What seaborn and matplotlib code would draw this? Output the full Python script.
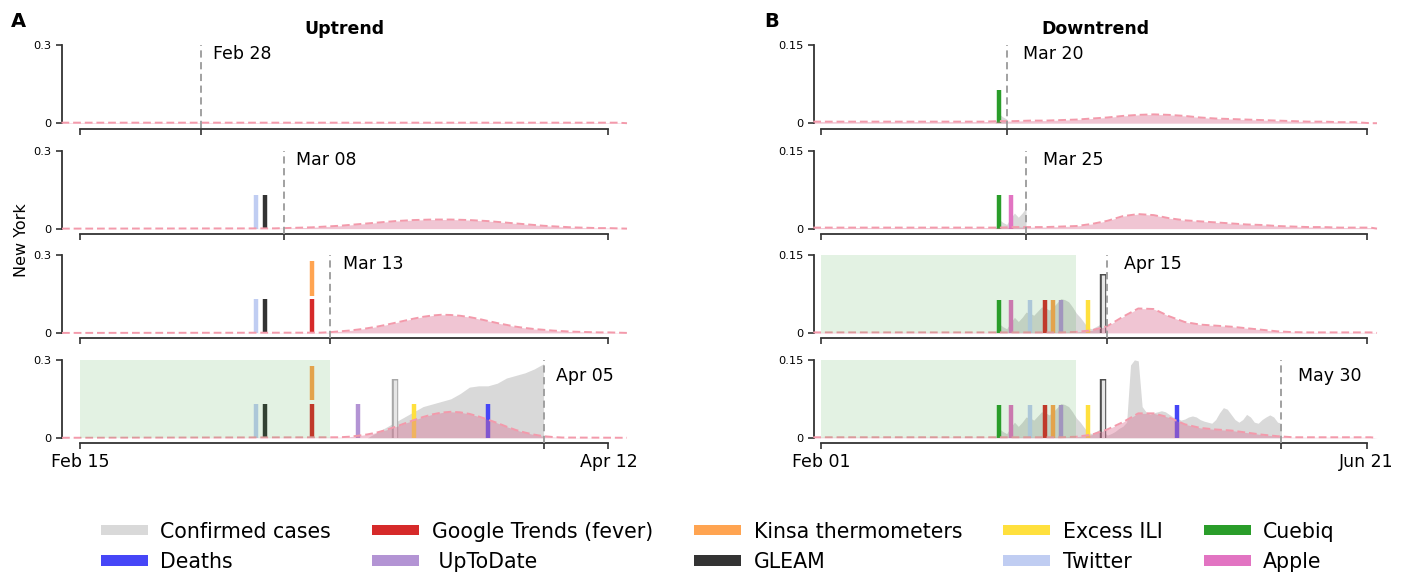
import matplotlib
matplotlib.use("Agg")
import matplotlib.pyplot as plt
import matplotlib.dates as mdates
import matplotlib.patches as mpatches
import numpy as np
import pandas as pd
import seaborn as sns

# ---------------- data ----------------
# forecast dates (one per row) and the span shown on each side
up_forecasts = ["2020-02-28", "2020-03-08", "2020-03-13", "2020-04-05"]
down_forecasts = ["2020-03-20", "2020-03-25", "2020-04-15", "2020-05-30"]
up_span = ["2020-02-15", "2020-04-12"]
down_span = ["2020-02-01", "2020-06-21"]

# detected early-warning signals (date, bar bottom, bar top)
up_sig_names = ["Twitter", "GLEAM", "Google Trends (fever)", "Kinsa thermometers",
                " UpToDate", "Confirmed cases", "Excess ILI", "Deaths"]
up_sig_dates = ["2020-03-05", "2020-03-06", "2020-03-11", "2020-03-11",
                "2020-03-16", "2020-03-20", "2020-03-22", "2020-03-30"]
up_sig_low = [0, 0, 0, 0.144, 0, 0, 0, 0]
up_sig_high = [0.13, 0.13, 0.13, 0.276, 0.13, 0.228, 0.13, 0.13]

down_sig_names = ["Cuebiq", "Apple", "Twitter", "Google Trends (fever)", "Kinsa thermometers",
                  " UpToDate", "Excess ILI", "Confirmed cases", "Deaths"]
down_sig_dates = ["2020-03-18", "2020-03-21", "2020-03-26", "2020-03-30", "2020-04-01",
                  "2020-04-03", "2020-04-10", "2020-04-14", "2020-05-03"]
down_sig_low = [0, 0, 0, 0, 0, 0, 0, 0, 0]
down_sig_high = [0.064, 0.064, 0.064, 0.064, 0.064, 0.064, 0.064, 0.113, 0.064]

# green window (start of span -> end date)
up_shade_end = "2020-03-13"
down_shade_end = "2020-04-07"

# confirmed cases (normalised), daily from start date
up_cases_start = "2020-03-17"
up_cases = [0.0, 0.02, 0.04, 0.06, 0.08, 0.10, 0.12, 0.13, 0.14, 0.15, 0.17, 0.195,
            0.20, 0.20, 0.21, 0.23, 0.24, 0.25, 0.265, 0.285]
down_cases_start = "2020-03-17"
down_cases = [0.0, 0.018, 0.012, 0.008, 0.02, 0.03, 0.022, 0.03, 0.04, 0.038, 0.034,
              0.042, 0.05, 0.048, 0.044, 0.05, 0.058, 0.066, 0.064, 0.06, 0.05, 0.038,
              0.03, 0.02, 0.01, 0.008, 0.012, 0.016, 0.012, 0.005,
              0.008, 0.012, 0.018, 0.022, 0.03, 0.14, 0.15, 0.148, 0.06, 0.05, 0.045,
              0.048, 0.05, 0.052, 0.05, 0.045, 0.04, 0.038, 0.034, 0.036, 0.04, 0.042,
              0.04, 0.035, 0.032, 0.03, 0.028, 0.035, 0.048, 0.058, 0.055, 0.045, 0.035,
              0.03, 0.035, 0.045, 0.04, 0.03, 0.028, 0.035, 0.04, 0.044, 0.04, 0.03, 0.028]

# forecast distributions (pink), start date, step in days, values
up_pink_start = ["2020-02-13", "2020-03-07", "2020-03-12", "2020-03-14"]
up_pink_step = [4, 1, 1, 1]
up_pink = [
    [0.002, 0.002, 0.002, 0.002, 0.002, 0.002, 0.002, 0.002, 0.002, 0.002, 0.002,
     0.002, 0.002, 0.002, 0.002, 0.002],
    [0.001, 0.002, 0.003, 0.004, 0.005, 0.007, 0.009, 0.011, 0.014, 0.017, 0.02, 0.023,
     0.026, 0.029, 0.031, 0.033, 0.034, 0.035, 0.035, 0.035, 0.034, 0.033, 0.031, 0.029,
     0.026, 0.023, 0.02, 0.017, 0.014, 0.011, 0.009, 0.007, 0.005, 0.004, 0.003, 0.002,
     0.002, 0.001],
    [0.001, 0.003, 0.006, 0.009, 0.013, 0.018, 0.024, 0.031, 0.039, 0.047, 0.055, 0.062,
     0.067, 0.07, 0.069, 0.066, 0.061, 0.054, 0.046, 0.038, 0.031, 0.024, 0.019, 0.015,
     0.012, 0.009, 0.007, 0.005, 0.004, 0.003, 0.002, 0.002, 0.001],
    [0.002, 0.004, 0.008, 0.013, 0.02, 0.03, 0.042, 0.055, 0.068, 0.08, 0.09, 0.097,
     0.1, 0.098, 0.092, 0.082, 0.07, 0.057, 0.043, 0.03, 0.02, 0.012, 0.006, 0.003, 0.001],
]
down_pink_start = ["2020-01-30", "2020-01-30", "2020-01-30", "2020-01-30"]
down_pink_step = [4, 4, 4, 4]
down_pink = [
    [0.003, 0.003, 0.003, 0.003, 0.003, 0.003, 0.003, 0.003, 0.003, 0.003, 0.003, 0.003,
     0.004, 0.004, 0.005, 0.005, 0.006, 0.007, 0.009, 0.011, 0.014, 0.016, 0.017, 0.016,
     0.014, 0.011, 0.009, 0.008, 0.007, 0.006, 0.005, 0.004, 0.003, 0.003, 0.002, 0.002, 0.0],
    [0.002, 0.002, 0.002, 0.002, 0.002, 0.002, 0.002, 0.002, 0.002, 0.002, 0.002, 0.002,
     0.002, 0.003, 0.003, 0.003, 0.004, 0.005, 0.009, 0.015, 0.024, 0.028, 0.026, 0.02,
     0.016, 0.014, 0.012, 0.01, 0.008, 0.007, 0.005, 0.004, 0.003, 0.003, 0.002, 0.002, 0.002],
    [0.001, 0.001, 0.001, 0.001, 0.001, 0.001, 0.001, 0.001, 0.001, 0.001, 0.001, 0.001,
     0.001, 0.001, 0.001, 0.001, 0.001, 0.002, 0.005, 0.013, 0.031, 0.047, 0.046, 0.032,
     0.021, 0.016, 0.014, 0.012, 0.009, 0.006, 0.003, 0.0015, 0.001, 0.001, 0.001, 0.001, 0.001],
    [0.001, 0.001, 0.001, 0.001, 0.001, 0.001, 0.001, 0.001, 0.001, 0.001, 0.001, 0.001,
     0.001, 0.001, 0.001, 0.001, 0.001, 0.002, 0.006, 0.016, 0.03, 0.047, 0.047, 0.039,
     0.026, 0.019, 0.016, 0.014, 0.01, 0.006, 0.003, 0.001, 0.001, 0.001, 0.001, 0.001, 0.001],
]

legend_labels = ["Confirmed cases", "Deaths", "Google Trends (fever)", " UpToDate",
                 "Kinsa thermometers", "GLEAM", "Excess ILI", "Twitter", "Cuebiq", "Apple"]
colors = {
    "Confirmed cases": "#d9d9d9", "Deaths": "#4646f7", "Google Trends (fever)": "#d62a2a",
    " UpToDate": "#b394d4", "Kinsa thermometers": "#ffa451", "GLEAM": "#333333",
    "Excess ILI": "#ffe03d", "Twitter": "#c0cdf2", "Cuebiq": "#2a9d2a", "Apple": "#e274c2",
}

# ---------------- plotting ----------------
sns.set_style("ticks")
plt.rcParams["font.family"] = ["DejaVu Sans"]
plt.rcParams["text.color"] = "black"
plt.rcParams["xtick.labelcolor"] = "black"
plt.rcParams["ytick.labelcolor"] = "black"

fig = plt.figure(figsize=(14.1, 5.73), dpi=100)

row_bottoms = [0.785, 0.601, 0.419, 0.236]
row_height = 0.136


def dnum(d):
    return mdates.date2num(pd.Timestamp(d))


def draw_column(x_left, width, pad_l, pad_r, ymax, yticklab, forecasts, span,
                pink_start, pink_step, pink, cases_start, cases,
                sig_names, sig_dates, sig_low, sig_high, shade_end, conf_edge,
                label_dx, title):
    t0, t1 = dnum(span[0]), dnum(span[1])
    xmin, xmax = t0 - pad_l, t1 + pad_r
    axes = []
    for i, fcd in enumerate(forecasts):
        ax = fig.add_axes([x_left, row_bottoms[i], width, row_height])
        axes.append(ax)
        fc = dnum(fcd)
        ax.set_xlim(xmin, xmax)
        ax.set_ylim(0, ymax)

        # confirmed cases up to the forecast date
        cx = dnum(cases_start) + np.arange(len(cases))
        cy = np.array(cases)
        keep = cx <= fc
        if keep.any():
            ax.fill_between(cx[keep], 0, cy[keep], color="#d9d9d9", lw=0, zorder=1)

        # detected signals
        conf_date = None
        for nm, d, lo, hi in zip(sig_names, sig_dates, sig_low, sig_high):
            dx = dnum(d)
            if nm == "Confirmed cases":
                conf_date = dx
            if dx > fc:
                continue
            if nm == "Confirmed cases":
                ax.vlines(dx, lo, hi, color=conf_edge, lw=4.6, zorder=2)
                ax.vlines(dx, lo, hi - 0.004 * ymax / 0.3, color="#e6e6e6", lw=2.4, zorder=2)
            else:
                ax.vlines(dx, lo, hi, color=colors[nm], lw=3.2, zorder=2)

        # forecast distribution
        px = dnum(pink_start[i]) + pink_step[i] * np.arange(len(pink[i]))
        py = np.array(pink[i], dtype=float)
        if px[0] > xmin:
            px = np.concatenate([[xmin], px]); py = np.concatenate([[0.0], py])
        if px[-1] < xmax:
            px = np.concatenate([px, [xmax]]); py = np.concatenate([py, [0.0]])
        ax.fill_between(px, 0, py, color="palevioletred", alpha=0.4, lw=0, zorder=3)
        sns.lineplot(x=px, y=py, ax=ax, color="#f39aab", lw=1.4,
                     linestyle=(0, (4, 2)), zorder=4, clip_on=False)

        # green window once confirmed cases are detected
        if conf_date is not None and conf_date <= fc:
            ax.fill_between([t0, dnum(shade_end)], 0, ymax, color="#2ca02c",
                            alpha=0.13, lw=0, zorder=5)

        # forecast date marker
        ax.plot([fc, fc], [-0.065 * ymax, ymax], color="#9a9a9a", lw=1.3,
                ls=(0, (4, 2.5)), zorder=6, clip_on=False)
        ty = 0.885 if i < 3 else 0.79
        ax.annotate(pd.Timestamp(fcd).strftime("%b %d"), xy=(fc, ty),
                    xycoords=("data", "axes fraction"), xytext=(label_dx, 0),
                    textcoords="offset points", va="center", ha="left", fontsize=12.5)

        ax.set_xlabel("")
        ax.set_ylabel("")
        ax.set_yticks([0, ymax])
        ax.set_xticks([t0, fc, t1])
        sns.despine(ax=ax, offset={"bottom": 4}, trim=True)
        ax.set_yticks([0, ymax], ["0", yticklab])
        if i == len(forecasts) - 1:
            ax.set_xticks([t0, fc, t1], [pd.Timestamp(span[0]).strftime("%b %d"), "",
                                         pd.Timestamp(span[1]).strftime("%b %d")])
        else:
            ax.set_xticks([t0, fc, t1], ["", "", ""])
        ax.tick_params(axis="both", length=4, width=1.2, color="#333333")
        ax.tick_params(axis="y", labelsize=8.2, pad=3.5)
        ax.tick_params(axis="x", labelsize=12.5, pad=3)
        for s in ["left", "bottom"]:
            ax.spines[s].set_color("#333333")
            ax.spines[s].set_linewidth(1.3)
    axes[0].set_title(title, fontsize=12.5, fontweight="bold", pad=8)
    return axes


draw_column(62 / 1410, 565 / 1410, 1.94, 2.0, 0.3, "0.3", up_forecasts, up_span,
            up_pink_start, up_pink_step, up_pink, up_cases_start, up_cases,
            up_sig_names, up_sig_dates, up_sig_low, up_sig_high, up_shade_end,
            "#a8a8a8", 9, "Uptrend")
draw_column(814 / 1410, 563 / 1410, 1.8, 2.7, 0.15, "0.15", down_forecasts, down_span,
            down_pink_start, down_pink_step, down_pink, down_cases_start, down_cases,
            down_sig_names, down_sig_dates, down_sig_low, down_sig_high, down_shade_end,
            "#4d4d4d", 12, "Downtrend")

fig.text(0.015, 0.581, "New York", rotation=90, ha="center", va="center", fontsize=11.5)
fig.text(0.013, 0.963, "A", ha="center", va="center", fontsize=14, fontweight="bold")
fig.text(0.5475, 0.963, "B", ha="center", va="center", fontsize=14, fontweight="bold")

handles = [mpatches.Patch(facecolor=colors[l], edgecolor="none") for l in legend_labels]
fig.legend(handles, legend_labels, loc="center", bbox_to_anchor=(0.509, 0.046), ncol=5,
           frameon=False, fontsize=14.8, handlelength=2.3, handleheight=0.42,
           handletextpad=0.6, columnspacing=2.0, labelspacing=0.5)

fig.savefig("out.png", dpi=100)
